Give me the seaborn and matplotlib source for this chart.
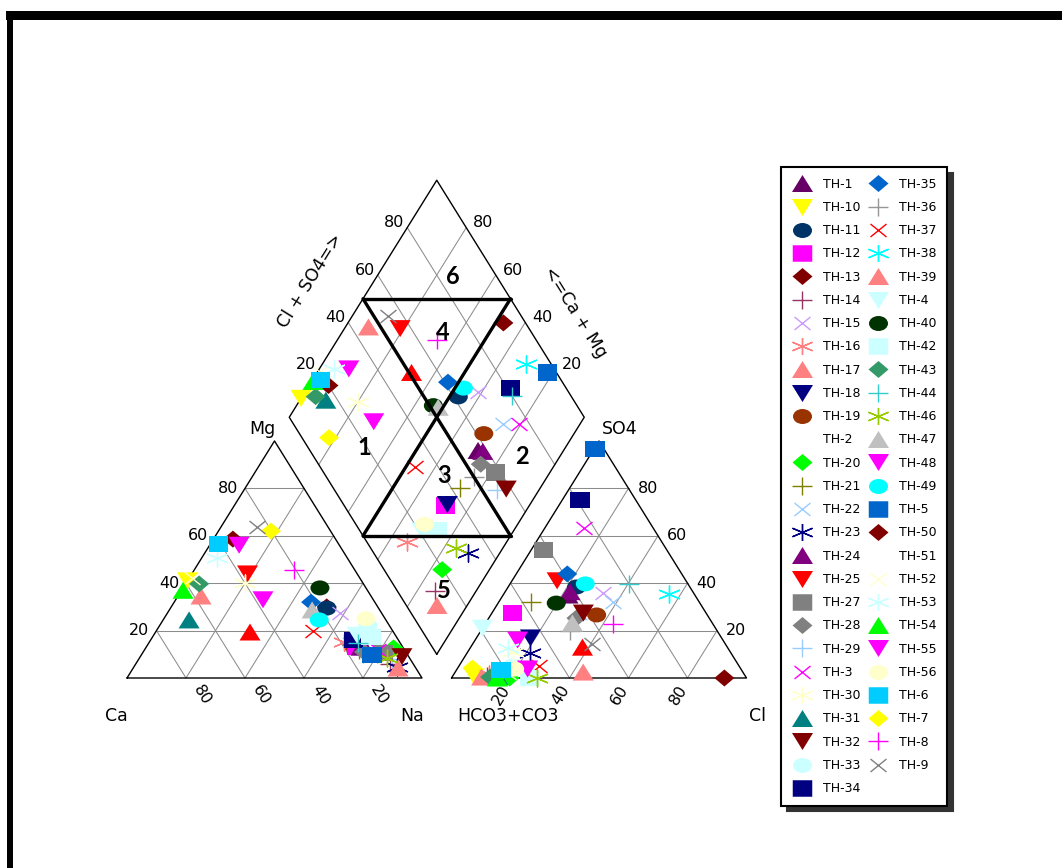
import numpy as np
import pandas as pd
import matplotlib
matplotlib.use("Agg")
import matplotlib.pyplot as plt
import seaborn as sns
from matplotlib.markers import MarkerStyle
from matplotlib.transforms import Affine2D
from matplotlib.lines import Line2D
from matplotlib.patches import Rectangle

# ---------------- sample chemistry (meq %) ----------------
samples = ["TH-1", "TH-10", "TH-11", "TH-12", "TH-13", "TH-14", "TH-15", "TH-16",
           "TH-17", "TH-18", "TH-19", "TH-2", "TH-20", "TH-21", "TH-22", "TH-23",
           "TH-24", "TH-25", "TH-26", "TH-27", "TH-28", "TH-29", "TH-3", "TH-30",
           "TH-31", "TH-32", "TH-33", "TH-34", "TH-35", "TH-36", "TH-37", "TH-38",
           "TH-39", "TH-4", "TH-40", "TH-42", "TH-43", "TH-44", "TH-46", "TH-47",
           "TH-48", "TH-49", "TH-5", "TH-50", "TH-51", "TH-52", "TH-53", "TH-54",
           "TH-55", "TH-56", "TH-6", "TH-7", "TH-8", "TH-9"]

nan = np.nan
ca = [13, 59, 17.5, 15.5, 34.8, 8, 14.1, 19, 57.6, 11, 16.6, nan, 3.3, 15.2, 10.1, 6.2,
      14.2, 37.2, 48.6, 8, 14.2, 6.3, 8.8, 40, 66.7, 2.3, 7.3, 15.2, 21.6, 15, 27, 16,
      6, 13, 15.6, 8.7, 55.7, 14.2, 7.6, 22.9, 34, 22.6, 12.1, 17.3, nan, 57, 44.2, 62.5,
      37.4, 6.5, 40.7, 20.2, 20.6, 24.1]
mg = [16, 41, 29.5, 13, 58.6, 6, 27.4, 15, 34.6, 17, 14, nan, 12.7, 12, 16, 4.6,
      13, 43.9, 19.4, 10.5, 11, 8, 12, 40, 24.5, 9, 22, 16, 32, 10, 20, 15,
      4.2, 18, 38, 17.3, 39.7, 14.8, 8.4, 28.7, 56, 24.5, 9.7, 30, nan, 42, 50.6, 37,
      33, 25, 56.5, 62, 45.6, 63.7]
na = [71, 0, 53, 71.5, 6.6, 86, 58.5, 66, 7.8, 72, 69.4, nan, 84, 72.8, 73.9, 89.2,
      72.8, 18.9, 32, 81.5, 74.8, 85.7, 79.2, 20, 8.8, 88.7, 70.7, 68.8, 46.4, 75, 53, 69,
      89.8, 69, 46.4, 74, 4.6, 71, 84, 48.4, 10, 52.9, 78.2, 52.7, nan, 1, 5.2, 0.5,
      29.6, 68.5, 2.8, 17.8, 33.8, 12.2]
hco3 = [43, 92, 38.4, 65.7, 80, 87.5, 30.8, 86.5, 54.1, 64.8, 37.5, nan, 80.3, 56.9, 29.1, 68.1,
        41.6, 43.7, 49.1, 41.8, 45, 45, 23.6, 73.5, 84, 41.6, 77, 18.9, 38.8, 50, 68, 8.7,
        89.6, 79, 48.7, 73.6, 86.7, 20.1, 71, 47.4, 69.6, 34.8, 3, 7.5, nan, 80, 74.6, 84.4,
        72.3, 76.7, 81.5, 90.8, 33.7, 45.1]
so4 = [35, 0.5, 38.4, 27.4, 3, 1, 35.9, 1.5, 2.5, 16.9, 26.6, nan, 0, 32, 32, 10.5,
       36.4, 41, 13, 54, 25.3, 25, 63.3, 11, 0.5, 27.4, 5, 75, 43.9, 20, 5, 35.4,
       0.4, 21, 31.6, 0, 0.4, 39.7, 0, 23.2, 16, 39.7, 96.6, 0, nan, 2, 12.7, 0,
       3.8, 3.8, 3.4, 4.2, 22.8, 14.3]
cl = [22, 7.5, 23.2, 6.9, 17, 11.5, 33.3, 12, 43.4, 18.3, 35.9, nan, 19.7, 11.1, 38.9, 21.4,
      22, 15.3, 37.9, 4.2, 29.7, 30, 13.1, 15.5, 15.5, 31, 18, 6.1, 17.3, 30, 27, 55.9,
      10, 0, 19.7, 26.4, 12.9, 40.2, 29, 29.4, 14.4, 25.5, 0.4, 92.5, nan, 18, 12.7, 15.6,
      23.9, 19.5, 15.1, 5, 43.5, 40.6]

# ---------------- symbol style for each sample ----------------
style = {
    "TH-1": ("tri_up", "#660066"), "TH-10": ("tri_down", "#FFFF00"),
    "TH-11": ("circle", "#003366"), "TH-12": ("square", "#FF00FF"),
    "TH-13": ("diamond", "#800000"), "TH-14": ("plus", "#993366"),
    "TH-15": ("cross", "#CC99FF"), "TH-16": ("star", "#FF8080"),
    "TH-17": ("tri_up", "#FF8080"), "TH-18": ("tri_down", "#000080"),
    "TH-19": ("circle", "#993300"), "TH-2": ("none", "#FFFFFF"),
    "TH-20": ("diamond", "#00FF00"), "TH-21": ("plus", "#808000"),
    "TH-22": ("cross", "#99CCFF"), "TH-23": ("star", "#000080"),
    "TH-24": ("tri_up", "#800080"), "TH-25": ("tri_down", "#FF0000"),
    "TH-26": ("tri_up", "#FF0000"), "TH-27": ("square", "#808080"),
    "TH-28": ("diamond", "#808080"), "TH-29": ("plus", "#99CCFF"),
    "TH-3": ("cross", "#FF00FF"), "TH-30": ("star", "#FFFFCC"),
    "TH-31": ("tri_up", "#008080"), "TH-32": ("tri_down", "#800000"),
    "TH-33": ("circle", "#CCFFFF"), "TH-34": ("square", "#000080"),
    "TH-35": ("diamond", "#0066CC"), "TH-36": ("plus", "#969696"),
    "TH-37": ("cross", "#FF0000"), "TH-38": ("star", "#00FFFF"),
    "TH-39": ("tri_up", "#FF8080"), "TH-4": ("tri_down", "#CCFFFF"),
    "TH-40": ("circle", "#003300"), "TH-42": ("square", "#CCFFFF"),
    "TH-43": ("diamond", "#339966"), "TH-44": ("plus", "#33CCCC"),
    "TH-46": ("star", "#99CC00"), "TH-47": ("tri_up", "#C0C0C0"),
    "TH-48": ("tri_down", "#FF00FF"), "TH-49": ("circle", "#00FFFF"),
    "TH-5": ("square", "#0066CC"), "TH-50": ("diamond", "#800000"),
    "TH-51": ("none", "#FFFFFF"), "TH-52": ("cross", "#FFFFCC"),
    "TH-53": ("star", "#CCFFFF"), "TH-54": ("tri_up", "#00FF00"),
    "TH-55": ("tri_down", "#FF00FF"), "TH-56": ("circle", "#FFFFCC"),
    "TH-6": ("square", "#00CCFF"), "TH-7": ("diamond", "#FFFF00"),
    "TH-8": ("plus", "#FF00FF"), "TH-9": ("cross", "#808080"),
}
unlisted = ["TH-26"]
draw_first = ["TH-50", "TH-1", "TH-36", "TH-33", "TH-29", "TH-14", "TH-19",
              "TH-21", "TH-38"]

# ---------------- figure & pixel-calibrated axes ----------------
sns.set_theme(style="white")
plt.rcParams["font.family"] = ["DejaVu Sans"]
plt.rcParams["text.color"] = "black"

W, HP = 1062, 868
X0, Y0, SX, SY = 127.0, 678.0, 2.95, 2.737   # px of Ca corner, px per unit
fig = plt.figure(figsize=(W / 100, HP / 100), dpi=100)
ax = fig.add_axes([0, 0, 1, 1])
ax.set_xlim(-X0 / SX, (W - X0) / SX)
ax.set_ylim((Y0 - HP) / SY, Y0 / SY)
ax.axis("off")

HT = np.sqrt(3) / 2          # triangle height per unit side
GAP = 10.0                   # space between the two triangles


def cation_xy(c, m, n):
    t = c + m + n
    m, n = m / t * 100, n / t * 100
    return n + m / 2, m * HT


def anion_xy(h, s, c):
    t = h + s + c
    s, c = s / t * 100, c / t * 100
    return 100 + GAP + c + s / 2, s * HT


def diamond_xy(n, v):
    u = 100 - n
    bx, by = 100 + GAP / 2, GAP * HT
    return bx + (v - u) / 2, by + (u + v) * HT


def P(xp, yp):
    return (xp - X0) / SX, (Y0 - yp) / SY


def text_at(xy, s, dx=0, dy=0, **kw):
    ax.text(xy[0] + dx / SX, xy[1] - dy / SY, s, **kw)


GRID = dict(color="#8c8c8c", lw=0.75, zorder=1)
EDGE = dict(color="black", lw=1.0, zorder=2)
ticks = [20, 40, 60, 80]

# cation triangle
for p in ticks:
    q = 100 - p
    ax.plot(*zip(cation_xy(q, p, 0), cation_xy(0, p, q)), **GRID)
    ax.plot(*zip(cation_xy(q, 0, p), cation_xy(0, q, p)), **GRID)
    ax.plot(*zip(cation_xy(p, 0, q), cation_xy(p, q, 0)), **GRID)
tri = [cation_xy(100, 0, 0), cation_xy(0, 0, 100), cation_xy(0, 100, 0), cation_xy(100, 0, 0)]
ax.plot(*zip(*tri), **EDGE)

# anion triangle
for p in ticks:
    q = 100 - p
    ax.plot(*zip(anion_xy(q, p, 0), anion_xy(0, p, q)), **GRID)
    ax.plot(*zip(anion_xy(q, 0, p), anion_xy(0, q, p)), **GRID)
    ax.plot(*zip(anion_xy(p, 0, q), anion_xy(p, q, 0)), **GRID)
tri = [anion_xy(100, 0, 0), anion_xy(0, 0, 100), anion_xy(0, 100, 0), anion_xy(100, 0, 0)]
ax.plot(*zip(*tri), **EDGE)

# diamond
for p in ticks:
    ax.plot(*zip(diamond_xy(100 - p, 0), diamond_xy(100 - p, 100)), **GRID)
    ax.plot(*zip(diamond_xy(100, p), diamond_xy(0, p)), **GRID)
dia = [diamond_xy(100, 0), diamond_xy(0, 0), diamond_xy(0, 100), diamond_xy(100, 100),
       diamond_xy(100, 0)]
ax.plot(*zip(*dia), **EDGE)

# facies boundaries
HG = dict(color="black", lw=2.4, zorder=5, solid_capstyle="round")
ul, ur = diamond_xy(0, 50), diamond_xy(50, 100)
ll, lr = diamond_xy(50, 0), diamond_xy(100, 50)
ax.plot(*zip(ul, lr), **HG)
ax.plot(*zip(ur, ll), **HG)
ax.plot(*zip(ul, ur), **HG)
ax.plot(*zip(ll, lr), **HG)

# ---------------- tick labels & titles ----------------
TK = dict(fontsize=11.5, color="black", zorder=6)
NM = dict(fontsize=12.5, color="black", zorder=6)
for p in ticks:
    text_at(cation_xy(100 - p, p, 0), str(p), dx=-7, ha="right", va="center", **TK)
    text_at(cation_xy(p, 0, 100 - p), str(p), dx=16, dy=17, ha="center", va="center",
            rotation=-58, **TK)
    text_at(anion_xy(100 - p, 0, p), str(p), dx=-9, dy=17, ha="center", va="center",
            rotation=58, **TK)
    text_at(anion_xy(0, p, 100 - p), str(p), dx=9, ha="left", va="center", **TK)
    text_at(diamond_xy(0, p), str(p), dx=-3, dy=-5, ha="right", va="center", **TK)
    text_at(diamond_xy(100 - p, 100), str(p), dx=7, dy=-5, ha="left", va="center", **TK)

for s, (xp, yp) in {"Mg": (262, 429), "Ca": (116, 716), "Na": (412, 716),
                    "SO4": (620, 429), "HCO3+CO3": (508, 716), "Cl": (757, 716)}.items():
    ax.text(*P(xp, yp), s, ha="center", va="center", **NM)
ax.text(*P(310, 281), "Cl + SO4=>", rotation=58, ha="center", va="center", **NM)
ax.text(*P(575, 312), "<=Ca + Mg", rotation=-58, ha="center", va="center", **NM)

ZN = dict(fontsize=17, fontweight="bold", family="Lato", color="black",
          ha="center", va="center", zorder=6)
for s, (xp, yp) in {"1": (364, 448), "2": (522, 457), "3": (444, 476),
                    "4": (443, 333), "5": (444, 590), "6": (453, 277)}.items():
    ax.text(*P(xp, yp), s, **ZN)

# ---------------- symbols ----------------
PT = 0.72
BASE = {"tri_up": ("^", 1, 1), "tri_down": ("v", 1, 1), "circle": ("o", 1, 1),
        "square": ("s", 1, 1), "diamond": ("D", 2 ** 0.5, 2 ** 0.5),
        "plus": ("+", 1, 1), "cross": ("x", 1, 1), "star": ((6, 2, 0), HT, 1)}
SIZE = {"tri_up": (21, 17), "tri_down": (21, 17), "circle": (19, 15),
        "square": (19.5, 16.5), "diamond": (20, 17), "plus": (21, 18),
        "cross": (16, 13), "star": (20, 17)}
LINE_KINDS = {"plus", "cross", "star"}


def make_marker(kind):
    base, bw, bh = BASE[kind]
    w, h = SIZE[kind]
    return MarkerStyle(base, transform=Affine2D().scale(w * PT / bw, h * PT / bh))


chem = pd.DataFrame(dict(sample=samples, ca=ca, mg=mg, na=na, hco3=hco3, so4=so4, cl=cl))
cx, cy = cation_xy(chem.ca, chem.mg, chem.na)
axx, ayy = anion_xy(chem.hco3, chem.so4, chem.cl)
na_pct = chem.na / (chem.ca + chem.mg + chem.na) * 100
an_pct = (chem.so4 + chem.cl) / (chem.hco3 + chem.so4 + chem.cl) * 100
dx_, dy_ = diamond_xy(na_pct, an_pct)
points = pd.concat([
    pd.DataFrame(dict(sample=chem["sample"], x=cx, y=cy)),
    pd.DataFrame(dict(sample=chem["sample"], x=axx, y=ayy)),
    pd.DataFrame(dict(sample=chem["sample"], x=dx_, y=dy_)),
], ignore_index=True).dropna()

order = draw_first + [s for s in samples if s not in draw_first]
for s in order:
    kind, col = style[s]
    sub = points[points["sample"] == s]
    if kind == "none" or sub.empty:
        continue
    m = make_marker(kind)
    if kind in LINE_KINDS:
        sns.scatterplot(data=sub, x="x", y="y", ax=ax, marker=m, s=1, color=col,
                        linewidth=1.0, legend=False, zorder=4)
    else:
        sns.scatterplot(data=sub, x="x", y="y", ax=ax, marker=m, s=1, color=col,
                        edgecolor="none", linewidth=0, legend=False, zorder=4)
ax.set_xlim(-X0 / SX, (W - X0) / SX)
ax.set_ylim((Y0 - HP) / SY, Y0 / SY)
ax.axis("off")

# ---------------- legend ----------------
handles, labels = [], []
for s in samples:
    if s in unlisted:
        continue
    kind, col = style[s]
    if kind == "none":
        h = Line2D([], [], ls="none", marker="None")
    elif kind in LINE_KINDS:
        h = Line2D([], [], ls="none", marker=make_marker(kind), markersize=1,
                   color=col, markeredgecolor=col, markeredgewidth=1.0)
    else:
        h = Line2D([], [], ls="none", marker=make_marker(kind), markersize=1,
                   color=col, markerfacecolor=col, markeredgewidth=0)
    handles.append(h)
    labels.append(s)

leg = ax.legend(handles, labels, ncol=2, loc="upper left",
                bbox_to_anchor=(781 / W, 1 - 167 / HP), bbox_transform=fig.transFigure,
                borderaxespad=0, frameon=True, fancybox=False, framealpha=1,
                edgecolor="black", facecolor="white", fontsize=9,
                handlelength=1.6, handletextpad=0.9, columnspacing=0.6,
                labelspacing=0.82, borderpad=0.85,
                shadow={"ox": 4, "oy": -4, "color": "#333333", "alpha": 1})
leg.get_frame().set_linewidth(1.5)
leg.set_zorder(10)
for t in leg.get_texts():
    t.set_color("black")

# ---------------- outer frame ----------------
fig.add_artist(Rectangle((6 / W, 1 - 20 / HP), (W - 6) / W, 9 / HP,
                         transform=fig.transFigure, color="black", lw=0))
fig.add_artist(Rectangle((7 / W, 0), 6 / W, 1 - 11 / HP,
                         transform=fig.transFigure, color="black", lw=0))

fig.savefig("out.png", dpi=100)
